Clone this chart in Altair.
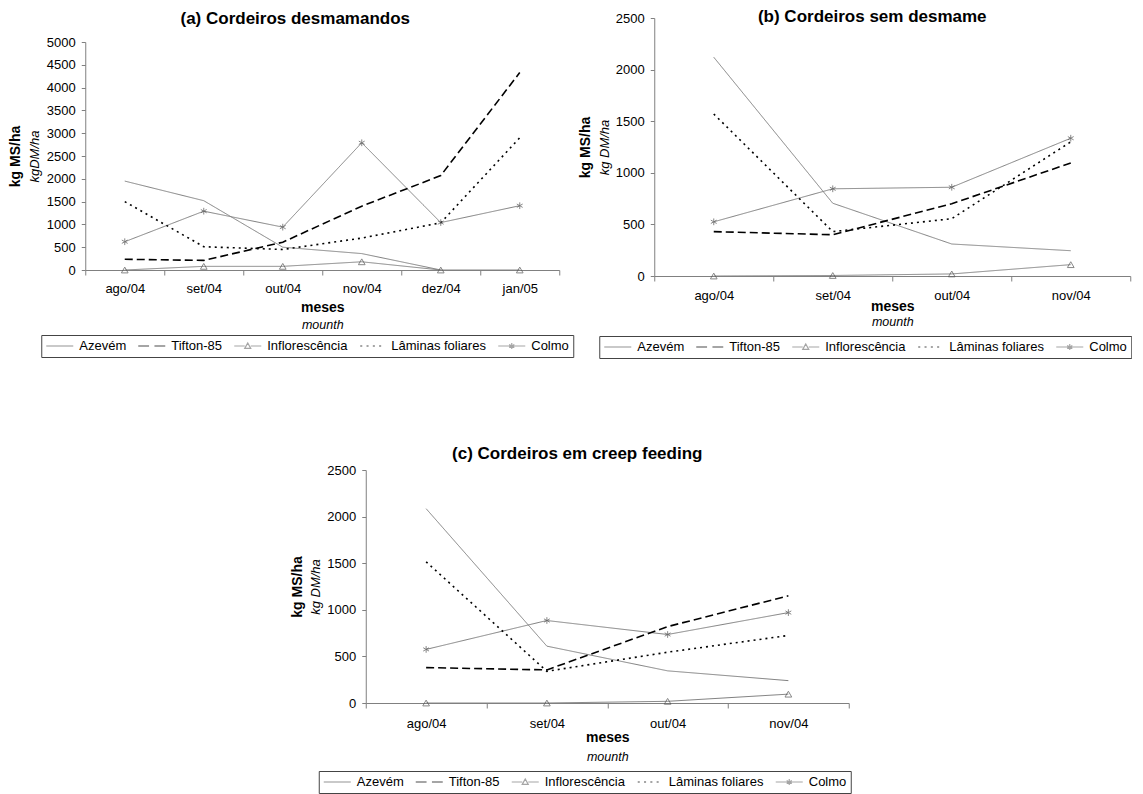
import altair as alt
import pandas as pd

SERIES = ["Azevém", "Tifton-85", "Inflorescência", "Lâminas foliares", "Colmo"]

# Panel (a)
MESES_A = ["ago/04", "set/04", "out/04", "nov/04", "dez/04", "jan/05"]
A_AZEVEM = [1950, 1520, 500, 360, 0, None]
A_TIFTON = [235, 210, 610, 1400, 2070, 4330]
A_INFLOR = [0, 80, 80, 180, 0, 0]
A_LAMINAS = [1500, 510, 450, 700, 1035, 2900]
A_COLMO = [620, 1290, 940, 2790, 1040, 1410]

# Panels (b) and (c)
MESES_BC = ["ago/04", "set/04", "out/04", "nov/04"]
B_AZEVEM = [2120, 705, 310, 245]
B_TIFTON = [430, 400, 700, 1095]
B_INFLOR = [0, 5, 20, 110]
B_LAMINAS = [1570, 430, 555, 1300]
B_COLMO = [525, 845, 860, 1335]

C_AZEVEM = [2085, 610, 345, 240]
C_TIFTON = [380, 355, 820, 1150]
C_INFLOR = [0, 0, 18, 95]
C_LAMINAS = [1515, 340, 545, 725]
C_COLMO = [575, 885, 735, 970]

FONT = "Liberation Sans"
GRAY = "#808080"
GRAY_SERIES = ["Azevém", "Inflorescência", "Colmo"]
BLACK_SERIES = ["Tifton-85", "Lâminas foliares"]
LINE_COLORS = [GRAY, "black", GRAY, "black", GRAY]
DASHES = [[1, 0], [8, 4], [1, 0], [2, 4], [1, 0]]
STAR = "M0,-1L0,1M-0.87,-0.5L0.87,0.5M-0.87,0.5L0.87,-0.5"
LEG_PATHS = [
    "M-1,0L3.5,0",
    "M-1,0L0.8,0M1.7,0L3.5,0",
    "M-1,0L0.75,0M1.75,0L3.5,0M0.75,0.4L1.25,-0.5L1.75,0.4Z",
    "M-0.67,0L-0.33,0M0.38,0L0.72,0M1.43,0L1.77,0M2.48,0L2.82,0",
    "M-1,0L3.5,0M1.25,-0.5L1.25,0.5M0.82,-0.25L1.68,0.25M0.82,0.25L1.68,-0.25",
]


def long_df(meses, cols):
    rows = []
    for s, vals in zip(SERIES, cols):
        for m, v in zip(meses, vals):
            if v is not None:
                rows.append({"mes": m, "serie": s, "valor": v})
    return pd.DataFrame(rows)


def panel(df, meses, ymax, title, ytitle2, w, h, yrange, t_dx, t_off,
          lab_pad, meses_pad, mounth_pad, italic_pad, bold_pad, leg_x, leg_y, leg_colpad):
    xs = alt.Scale(type="band", domain=meses, paddingInner=0, paddingOuter=0)
    if yrange is None:
        ys = alt.Scale(domain=[0, ymax], nice=False, zero=True)
    else:
        ys = alt.Scale(domain=[0, ymax], nice=False, zero=True, range=yrange)
    yvals = list(range(0, ymax + 1, 500))
    col_scale = alt.Scale(domain=SERIES, range=LINE_COLORS)
    dash_scale = alt.Scale(domain=SERIES, range=DASHES)

    gray_lines = alt.Chart(df).transform_filter(
        alt.FieldOneOfPredicate(field="serie", oneOf=GRAY_SERIES)
    ).mark_line(strokeWidth=1).encode(
        x=alt.X("mes:N", scale=xs, bandPosition=0.5,
                axis=alt.Axis(orient="bottom", tickBand="extent", tickSize=5,
                              labelPadding=lab_pad, labelAngle=0, title="meses",
                              titleFontWeight="bold", titleFontSize=14,
                              titlePadding=meses_pad)),
        y=alt.Y("valor:Q", scale=ys,
                axis=alt.Axis(orient="left", values=yvals, format="d", tickSize=4,
                              labelPadding=6, title=ytitle2, titleFontStyle="italic",
                              titleFontWeight="normal", titleFontSize=13,
                              titlePadding=italic_pad)),
        color=alt.Color("serie:N", scale=col_scale, legend=None),
        strokeDash=alt.StrokeDash("serie:N", scale=dash_scale, legend=None),
    )

    black_lines = alt.Chart(df).transform_filter(
        alt.FieldOneOfPredicate(field="serie", oneOf=BLACK_SERIES)
    ).mark_line(strokeWidth=1.6).encode(
        x=alt.X("mes:N", scale=xs, bandPosition=0.5, axis=None),
        y=alt.Y("valor:Q", scale=ys, axis=None),
        color=alt.Color("serie:N", scale=col_scale, legend=None),
        strokeDash=alt.StrokeDash("serie:N", scale=dash_scale, legend=None),
    )

    pts = alt.Chart(df).transform_filter(
        alt.FieldOneOfPredicate(field="serie", oneOf=["Inflorescência", "Colmo"])
    ).mark_point(filled=False, size=45, strokeWidth=1, color="#555").encode(
        x=alt.X("mes:N", scale=xs, bandPosition=0.5,
                axis=alt.Axis(orient="bottom", labels=False, ticks=False, domain=False,
                              title="mounth", titleFontStyle="italic", titleFontWeight="normal",
                              titleFontSize=12.5, titlePadding=mounth_pad)),
        y=alt.Y("valor:Q", scale=ys,
                axis=alt.Axis(orient="left", labels=False, ticks=False, domain=False,
                              title="kg MS/ha", titleFontWeight="bold", titleFontSize=14,
                              titlePadding=bold_pad)),
        shape=alt.Shape("serie:N", scale=alt.Scale(domain=["Inflorescência", "Colmo"],
                                                   range=["triangle-up", STAR]), legend=None),
    )

    legend = alt.Legend(orient="none", legendX=leg_x, legendY=leg_y, direction="horizontal",
                        title=None, labelFont=FONT, labelFontSize=13, labelColor="black",
                        symbolSize=144, symbolStrokeWidth=1.2, strokeColor="#444",
                        padding=4, columnPadding=leg_colpad, labelOffset=20)
    leg = alt.Chart(df).transform_filter("false").mark_point(filled=False).encode(
        shape=alt.Shape("serie:N", scale=alt.Scale(domain=SERIES, range=LEG_PATHS), legend=legend),
        color=alt.Color("serie:N", scale=alt.Scale(domain=SERIES, range=LINE_COLORS), legend=legend),
    )

    return alt.layer(gray_lines, black_lines, pts, leg).resolve_scale(
        x="independent", y="independent", shape="independent", color="independent",
        strokeDash="independent"
    ).resolve_axis(x="independent", y="independent").properties(
        width=w, height=h,
        title=alt.TitleParams(title, anchor="middle", frame="group", dx=t_dx, offset=t_off,
                              fontSize=17, fontWeight="bold", font=FONT, color="black"),
    )


df_a = long_df(MESES_A, [A_AZEVEM, A_TIFTON, A_INFLOR, A_LAMINAS, A_COLMO])
df_b = long_df(MESES_BC, [B_AZEVEM, B_TIFTON, B_INFLOR, B_LAMINAS, B_COLMO])
df_c = long_df(MESES_BC, [C_AZEVEM, C_TIFTON, C_INFLOR, C_LAMINAS, C_COLMO])

pa = panel(df_a, MESES_A, 5000, "(a) Cordeiros desmamandos", "kgDM/ha", 474, 252, [252, 24],
           -27, -10, 7, 5, 48, 5, 63, -44, 317, 9)
pb = panel(df_b, MESES_BC, 2500, "(b) Cordeiros sem desmame", "kg DM/ha", 476, 258, None,
           -20, -14, 8, -3, 39, 4, 62, -55, 318, 9)
pc = panel(df_c, MESES_BC, 2500, "(c) Cordeiros em creep feeding", "kg DM/ha", 483, 233, None,
           -30, 1, 9, 0, 47, 4, 61, -47, 301, 9)

top = alt.hconcat(pa, pb, spacing=4).resolve_scale(
    color="independent", shape="independent", strokeDash="independent")
chart = alt.vconcat(top, pc, spacing=86, center=True).resolve_scale(
    color="independent", shape="independent", strokeDash="independent"
).properties(padding=0).configure_view(stroke=None).configure_axis(
    labelFont=FONT, titleFont=FONT, labelFontSize=13, labelColor="black",
    titleColor="black", domainColor="#808080", tickColor="#808080", grid=False,
).configure_legend(labelFont=FONT).configure_title(font=FONT)

chart.save("out.html", embed_options={"renderer": "svg", "actions": False})
